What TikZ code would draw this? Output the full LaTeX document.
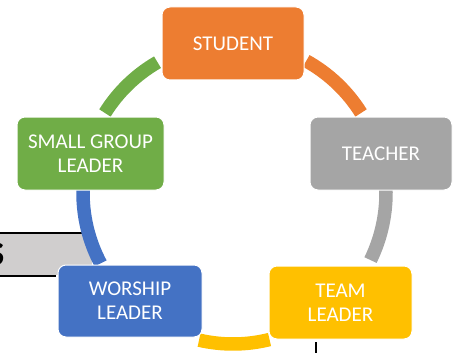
\documentclass[tikz,border=0pt]{standalone}
\usepackage{fontspec}
\setmainfont{Carlito}
\begin{document}
\begin{tikzpicture}[x=1pt,y=1pt,
  cbox/.style={draw=white, line width=1pt, rounded corners=8pt, inner sep=0pt,
    text=white, align=center, font=\fontsize{21}{24}\selectfont},
  ring/.style={line width=13.5pt, line cap=butt}]
\definecolor{cOrange}{HTML}{ED7D31}
\definecolor{cGray}{HTML}{A5A5A5}
\definecolor{cGreen}{HTML}{70AD47}
\definecolor{cBlue}{HTML}{4472C4}
\definecolor{cYellow}{HTML}{FFC000}
\definecolor{cBar}{HTML}{D0CECE}
\useasboundingbox (0,0) rectangle (458,-353);
% background bar (cut-off heading)
\fill[cBar] (0,-233) rectangle (92,-275);
\draw[black, line width=2pt] (0,-232.5) -- (82,-232.5);
\draw[black, line width=2pt] (0,-275.5) -- (56,-275.5);
\begin{scope}
\clip (0,0) rectangle (458,-353);
\node[anchor=base east, inner sep=0pt, font=\fontsize{46}{46}\selectfont\bfseries] (s) at (5.5,-265) {s};
\end{scope}
% ring segments
\coordinate (c) at (233,-193);
\draw[ring, cGreen]  ([shift={(148:151)}]c) arc[start angle=148, end angle=120, radius=151];
\draw[ring, cOrange] ([shift={(61:151)}]c)  arc[start angle=61, end angle=32, radius=151];
\draw[ring, cGray]   ([shift={(2:153)}]c)   arc[start angle=2, end angle=-26, radius=153];
\draw[ring, cYellow] ([shift={(284:151)}]c) arc[start angle=284, end angle=257, radius=151];
\draw[ring, cBlue]   ([shift={(208:150)}]c) arc[start angle=208, end angle=178, radius=150];
% boxes
\node[cbox, fill=cOrange, minimum width=142pt, minimum height=73pt] (student) at (233,-43.5) {STUDENT};
\node[cbox, fill=cGreen, minimum width=147pt, minimum height=73pt] (sgl) at (90.5,-153.5) {SMALL GROUP\\LEADER};
\node[cbox, fill=cGray, minimum width=142pt, minimum height=73pt] (teacher) at (381,-153.5) {TEACHER};
\node[cbox, fill=cBlue, minimum width=144pt, minimum height=72pt] (worship) at (130,-301) {WORSHIP\\LEADER};
\node[cbox, fill=cYellow, minimum width=143pt, minimum height=73pt] (team) at (340.5,-302.5) {TEAM\\LEADER};
% small vertical line below team leader
\coordinate (v) at (316,-342);
\coordinate (vb) at (316,-353);
\draw[black, line width=2pt] (v) -- (vb);
\end{tikzpicture}
\end{document}
